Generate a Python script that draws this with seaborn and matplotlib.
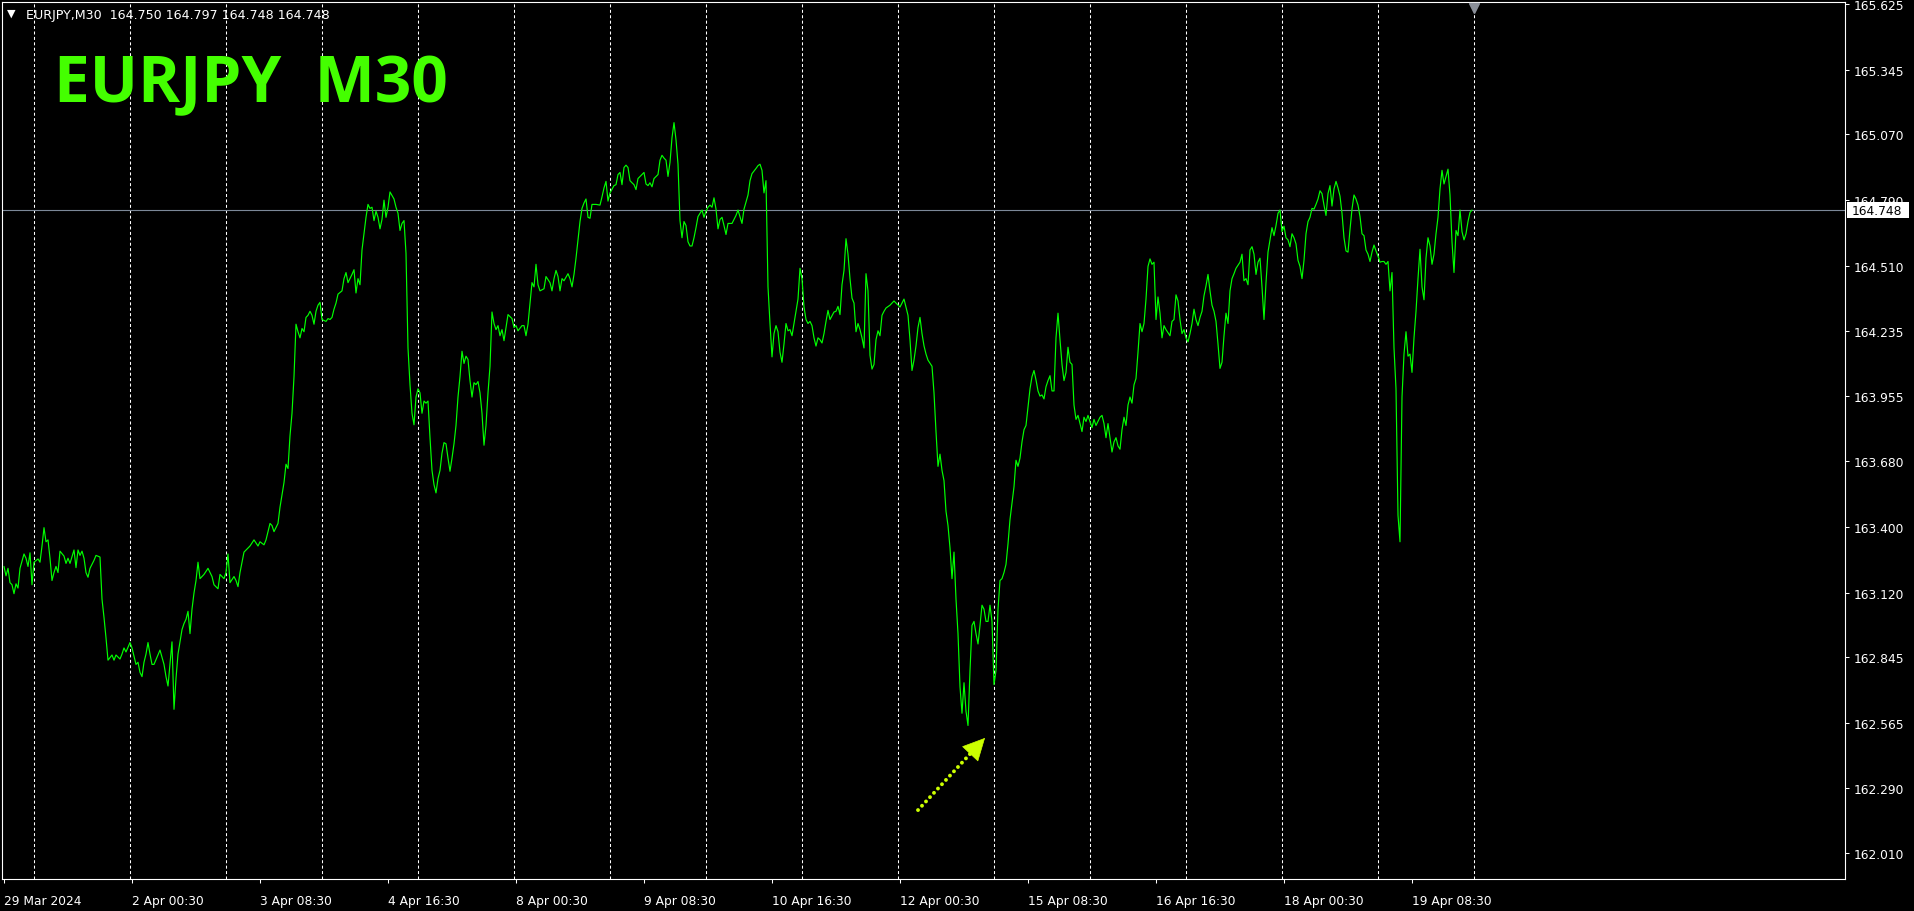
import matplotlib
matplotlib.use('Agg')
import matplotlib.pyplot as plt
import matplotlib.transforms as mtransforms
from matplotlib.patches import Rectangle
import pandas as pd
import seaborn as sns

# M30 bar number (0 = 29 Mar 16:30) and close price
wk1_bar = [0, 1, 2, 3, 4, 5, 6, 7, 8, 10, 11, 12, 13, 14, 15, 17, 18, 19, 20, 21,
           22, 23, 24, 25, 26, 27, 28, 30, 31, 32, 33, 35, 36, 37, 38, 39, 40, 41, 42, 43,
           45, 46, 48, 49, 50, 51, 52, 54, 55, 56, 58, 59, 60, 61, 63, 64, 65, 66, 67, 68,
           69, 70, 71, 72, 73, 74, 75, 77, 78, 80, 81, 82, 83, 84, 85, 86, 87, 88, 89, 90,
           91, 92, 93, 94, 95, 96, 97, 98, 100, 102, 104, 105, 107, 108, 110, 111, 112, 113, 115, 116,
           117, 118, 120, 123, 125, 127, 128, 130, 131, 133, 134, 135, 137, 138, 140, 141, 142, 143, 144, 145,
           146, 147, 148, 149, 150, 151, 152, 153, 154, 155, 156, 157, 158, 159, 161, 162, 163, 164, 165, 166,
           167, 169, 170, 171, 172, 173, 174, 175, 176, 177, 178, 179, 180, 181, 182, 183, 184, 185, 186, 187,
           188, 189, 190, 191, 192, 193, 195, 196, 197, 198, 199, 200, 201, 202, 203, 204, 205, 206, 207, 208,
           209, 210, 211, 212, 213, 214, 215, 216, 217, 218, 219, 220, 221, 222, 223, 224, 225, 226, 227, 228,
           229, 230, 231, 232, 233, 234, 235, 236, 237, 238, 239, 240, 241, 242, 243, 244, 245, 246, 247, 248,
           249, 250, 251, 252, 254]
wk1_close = [163.231, 163.191, 163.223, 163.162, 163.153, 163.115, 163.157, 163.139, 163.223, 163.284,
             163.266, 163.231, 163.289, 163.153, 163.249, 163.263, 163.249, 163.318, 163.396, 163.336,
             163.344, 163.266, 163.171, 163.205, 163.231, 163.205, 163.296, 163.275, 163.244, 163.266,
             163.244, 163.301, 163.226, 163.301, 163.278, 163.296, 163.266, 163.205, 163.185, 163.223,
             163.257, 163.278, 163.271, 163.092, 163.014, 162.927, 162.832, 162.854, 162.832, 162.854,
             162.837, 162.858, 162.884, 162.867, 162.907, 162.884, 162.849, 162.814, 162.823, 162.780,
             162.762, 162.823, 162.858, 162.907, 162.858, 162.814, 162.814, 162.854, 162.875, 162.814,
             162.762, 162.722, 162.814, 162.910, 162.623, 162.754, 162.858, 162.910, 162.962, 162.988,
             163.006, 163.040, 162.945, 163.049, 163.118, 163.171, 163.249, 163.179, 163.197, 163.223,
             163.188, 163.153, 163.136, 163.197, 163.179, 163.205, 163.284, 163.162, 163.188, 163.171,
             163.145, 163.205, 163.292, 163.318, 163.344, 163.318, 163.336, 163.323, 163.344, 163.414,
             163.405, 163.379, 163.414, 163.483, 163.588, 163.666, 163.648, 163.787, 163.883, 164.039,
             164.262, 164.230, 164.204, 164.244, 164.230, 164.291, 164.300, 164.317, 164.300, 164.262,
             164.317, 164.343, 164.355, 164.282, 164.274, 164.286, 164.282, 164.291, 164.326, 164.352,
             164.390, 164.404, 164.456, 164.482, 164.439, 164.456, 164.474, 164.494, 164.395, 164.456,
             164.430, 164.578, 164.647, 164.717, 164.772, 164.755, 164.760, 164.703, 164.743, 164.717,
             164.668, 164.708, 164.790, 164.717, 164.760, 164.825, 164.795, 164.760, 164.734, 164.661,
             164.691, 164.703, 164.564, 164.161, 164.005, 163.883, 163.834, 163.952, 163.987, 163.970,
             163.883, 163.935, 163.926, 163.935, 163.779, 163.640, 163.579, 163.544, 163.605, 163.640,
             163.713, 163.758, 163.753, 163.692, 163.636, 163.692, 163.753, 163.831, 163.952, 164.039,
             164.147, 164.095, 164.126, 164.112, 164.022, 163.952, 164.013, 164.005, 164.018, 163.970,
             163.883, 163.747, 163.831, 163.970, 164.083, 164.314, 164.265, 164.239, 164.256, 164.213,
             164.239, 164.192, 164.248, 164.303, 164.286]

wk2_bar = [255, 256, 257, 259, 260, 261, 262, 263, 264, 265, 266, 267, 268, 270, 271, 273, 274, 275, 276, 277,
           278, 279, 280, 282, 283, 284, 285, 286, 287, 288, 289, 290, 291, 292, 293, 294, 296, 298, 299, 300,
           301, 302, 303, 305, 306, 307, 308, 309, 310, 311, 312, 313, 314, 315, 316, 317, 319, 320, 321, 322,
           323, 324, 325, 327, 328, 329, 330, 331, 332, 333, 334, 335, 336, 337, 338, 339, 340, 341, 342, 343,
           344, 345, 346, 347, 349, 350, 351, 352, 353, 354, 355, 356, 357, 358, 359, 360, 361, 362, 364, 365,
           366, 367, 368, 369, 370, 372, 373, 374, 376, 377, 378, 379, 380, 381, 382, 383, 384, 385, 386, 387,
           388, 389, 390, 391, 392, 393, 394, 395, 396, 397, 398, 399, 400, 401, 402, 403, 404, 405, 406, 407,
           408, 409, 410, 411, 412, 413, 415, 416, 417, 418, 419, 420, 421, 422, 423, 424, 425, 426, 427, 428,
           429, 430, 431, 432, 433, 434, 435, 436, 437, 438, 439, 440, 441, 443, 444, 445, 446, 448, 449, 450,
           451, 452, 453, 454, 455, 456, 457, 458, 459, 460, 461, 462, 464, 465, 466, 467, 468, 469, 470, 471,
           472, 473, 474, 475, 476, 477, 478, 479, 480, 481, 482, 483, 484, 485, 486, 487, 488, 489, 490, 491,
           492, 493, 494]
wk2_close = [164.248, 164.256, 164.234, 164.256, 164.256, 164.213, 164.262, 164.352, 164.439, 164.421,
             164.517, 164.430, 164.404, 164.413, 164.465, 164.439, 164.404, 164.456, 164.491, 164.465,
             164.404, 164.456, 164.447, 164.477, 164.456, 164.421, 164.474, 164.543, 164.621, 164.699,
             164.755, 164.778, 164.795, 164.717, 164.713, 164.772, 164.772, 164.769, 164.804, 164.842,
             164.870, 164.786, 164.821, 164.852, 164.856, 164.899, 164.908, 164.856, 164.929, 164.939,
             164.929, 164.873, 164.864, 164.856, 164.835, 164.882, 164.899, 164.908, 164.859, 164.852,
             164.864, 164.847, 164.882, 164.899, 164.960, 164.981, 164.969, 164.960, 164.891, 164.951,
             165.056, 165.120, 165.047, 164.943, 164.703, 164.630, 164.699, 164.682, 164.613, 164.595,
             164.595, 164.630, 164.673, 164.720, 164.748, 164.717, 164.743, 164.760, 164.769, 164.760,
             164.800, 164.752, 164.668, 164.708, 164.717, 164.682, 164.644, 164.691, 164.691, 164.708,
             164.725, 164.748, 164.720, 164.691, 164.752, 164.812, 164.873, 164.903, 164.925, 164.937,
             164.943, 164.917, 164.821, 164.873, 164.421, 164.265, 164.123, 164.222, 164.256, 164.230,
             164.143, 164.100, 164.178, 164.265, 164.234, 164.239, 164.213, 164.265, 164.317, 164.369,
             164.500, 164.456, 164.335, 164.282, 164.265, 164.274, 164.256, 164.204, 164.169, 164.204,
             164.196, 164.182, 164.222, 164.274, 164.321, 164.282, 164.314, 164.317, 164.338, 164.303,
             164.430, 164.491, 164.626, 164.560, 164.456, 164.373, 164.352, 164.230, 164.265, 164.239,
             164.204, 164.161, 164.477, 164.404, 164.130, 164.071, 164.091, 164.196, 164.234, 164.213,
             164.300, 164.317, 164.331, 164.343, 164.352, 164.361, 164.352, 164.335, 164.352, 164.369,
             164.335, 164.300, 164.196, 164.065, 164.109, 164.170, 164.248, 164.291, 164.222, 164.170,
             164.135, 164.109, 164.083, 163.970, 163.805, 163.657, 163.709, 163.640, 163.596, 163.466,
             163.405, 163.310, 163.179, 163.292, 163.092, 162.945, 162.719, 162.606, 162.736, 162.615,
             162.554, 162.788, 162.980, 162.997, 162.945, 162.901, 162.980, 163.066, 163.049, 162.997,
             162.997, 163.066, 162.997]

wk3_bar = [495, 496, 497, 498, 499, 500, 501, 502, 503, 504, 505, 506, 507, 508, 509, 510, 511, 512, 513, 514,
           515, 516, 517, 518, 519, 520, 521, 522, 523, 524, 525, 526, 527, 528, 529, 530, 531, 532, 533, 534,
           535, 536, 537, 538, 539, 540, 541, 542, 544, 545, 546, 548, 549, 550, 551, 552, 553, 554, 555, 556,
           557, 558, 559, 560, 561, 562, 563, 564, 565, 566, 567, 568, 569, 570, 571, 572, 573, 574, 575, 576,
           577, 578, 579, 580, 581, 583, 584, 585, 586, 587, 588, 589, 590, 591, 592, 593, 594, 595, 596, 597,
           598, 599, 600, 601, 602, 603, 604, 605, 606, 607, 608, 609, 610, 611, 612, 613, 614, 615, 616, 618,
           619, 620, 621, 622, 623, 624, 625, 626, 627, 628, 629, 630, 631, 632, 633, 634, 635, 636, 637, 638,
           639, 640, 641, 642, 643, 644, 645, 646, 647, 648, 649, 650, 651, 652, 653, 654, 655, 656, 657, 658,
           659, 660, 661, 662, 663, 664, 665, 666, 667, 668, 669, 670, 671, 672, 673, 674, 675, 676, 677, 678,
           679, 680, 681, 682, 683, 684, 685, 686, 687, 688, 689, 690, 691, 692, 693, 694, 695, 696, 697, 698,
           699, 700, 701, 702, 703, 704, 705, 706, 707, 708, 709, 710, 711, 712, 713, 714, 715, 716, 717, 718,
           719, 720, 721, 722, 723, 724, 725, 726, 727, 728, 729, 730, 731, 732, 733, 734]
wk3_close = [162.728, 162.788, 163.049, 163.171, 163.179, 163.205, 163.240, 163.327, 163.431, 163.501,
             163.570, 163.683, 163.657, 163.692, 163.761, 163.813, 163.831, 163.909, 163.987, 164.039,
             164.065, 164.025, 163.978, 163.956, 163.961, 163.944, 163.996, 164.022, 164.043, 163.978,
             163.978, 164.204, 164.309, 164.196, 164.091, 164.022, 164.057, 164.164, 164.100, 164.091,
             163.918, 163.857, 163.874, 163.839, 163.805, 163.866, 163.848, 163.874, 163.822, 163.857,
             163.831, 163.866, 163.874, 163.839, 163.779, 163.839, 163.779, 163.718, 163.761, 163.779,
             163.744, 163.730, 163.813, 163.866, 163.831, 163.918, 163.952, 163.926, 164.004, 164.031,
             164.143, 164.265, 164.230, 164.265, 164.369, 164.508, 164.540, 164.517, 164.526, 164.282,
             164.378, 164.309, 164.204, 164.256, 164.239, 164.213, 164.274, 164.282, 164.387, 164.361,
             164.282, 164.222, 164.239, 164.204, 164.187, 164.222, 164.265, 164.326, 164.282, 164.256,
             164.291, 164.317, 164.383, 164.425, 164.474, 164.404, 164.343, 164.317, 164.274, 164.178,
             164.074, 164.100, 164.213, 164.309, 164.265, 164.404, 164.456, 164.477, 164.500, 164.526,
             164.560, 164.447, 164.456, 164.430, 164.578, 164.592, 164.560, 164.474, 164.526, 164.543,
             164.421, 164.282, 164.439, 164.569, 164.621, 164.673, 164.639, 164.682, 164.734, 164.748,
             164.656, 164.679, 164.630, 164.621, 164.592, 164.647, 164.630, 164.604, 164.534, 164.508,
             164.456, 164.534, 164.647, 164.699, 164.717, 164.755, 164.752, 164.772, 164.795, 164.830,
             164.818, 164.769, 164.725, 164.818, 164.852, 164.765, 164.838, 164.870, 164.842, 164.807,
             164.734, 164.630, 164.574, 164.569, 164.665, 164.752, 164.812, 164.795, 164.769, 164.720,
             164.647, 164.639, 164.578, 164.560, 164.529, 164.569, 164.599, 164.574, 164.552, 164.526,
             164.529, 164.529, 164.517, 164.529, 164.404, 164.482, 164.161, 163.987, 163.449, 163.336,
             163.952, 164.135, 164.230, 164.126, 164.135, 164.057, 164.204, 164.317, 164.456, 164.581,
             164.421, 164.366, 164.543, 164.630, 164.595, 164.517, 164.560, 164.647, 164.717, 164.838,
             164.917, 164.859, 164.891, 164.922, 164.812, 164.613, 164.482, 164.661, 164.639, 164.748,
             164.656, 164.621, 164.647, 164.699, 164.738, 164.748]

last_price = 164.748
header_text = "EURJPY,M30  164.750 164.797 164.748 164.748"
title_text = "EURJPY  M30"

price_ticks = [165.625, 165.345, 165.070, 164.790, 164.510, 164.235, 163.955,
               163.680, 163.400, 163.120, 162.845, 162.565, 162.290, 162.010]
time_tick_bars = [0, 64, 128, 192, 256, 320, 384, 448, 512, 576, 640, 704]
time_tick_labels = ["29 Mar 2024", "2 Apr 00:30", "3 Apr 08:30", "4 Apr 16:30",
                    "8 Apr 00:30", "9 Apr 08:30", "10 Apr 16:30", "12 Apr 00:30",
                    "15 Apr 08:30", "16 Apr 16:30", "18 Apr 00:30", "19 Apr 08:30"]
day_start_bars = [15 + 48 * k for k in range(16)]

df = pd.DataFrame({
    "bar": wk1_bar + wk2_bar + wk3_bar,
    "close": wk1_close + wk2_close + wk3_close,
})

sns.set_theme(style="dark", rc={
    "figure.facecolor": "black",
    "axes.facecolor": "black",
    "axes.edgecolor": "white",
    "text.color": "white",
    "xtick.color": "white",
    "ytick.color": "white",
})
plt.rcParams["font.family"] = ["DejaVu Sans"]

W, H = 1915, 912
fig = plt.figure(figsize=(W / 100, H / 100), dpi=100)
ax = fig.add_axes([2 / W, 32 / H, 1843 / W, 877 / H])

# day separators (dashed)
for b in day_start_bars:
    ax.axvline(b, color="white", lw=0.75, ls=(0, (2.9, 2.3)), zorder=1)

# bid line
ax.axhline(last_price, color="#7c8898", lw=0.8, zorder=2)

sns.lineplot(data=df, x="bar", y="close", color="#00ff00", lw=0.85,
             estimator=None, sort=False, ax=ax, zorder=3)

ax.set_xlim(-1, 920.5)
ax.set_ylim(161.9006, 165.6335)
ax.set_xlabel("")
ax.set_ylabel("")

for s in ax.spines.values():
    s.set_color("white")
    s.set_linewidth(0.8)

ax.yaxis.tick_right()
ax.set_yticks(price_ticks)
ax.set_yticklabels([f"{v:.3f}" for v in price_ticks])
ax.tick_params(axis="y", colors="white", length=3, width=0.75, pad=3.5,
               labelsize=8.8, right=True, left=False)

ax.set_xticks(time_tick_bars)
ax.set_xticklabels(time_tick_labels, ha="left")
ax.tick_params(axis="x", colors="white", length=3, width=0.75, pad=8,
               labelsize=8.8, bottom=True)

# current price box on the price scale
trans = mtransforms.blended_transform_factory(fig.transFigure, ax.transData)
box_h = 16 * (165.6335 - 161.9006) / 877
fig.patches.append(Rectangle((1847 / W, last_price - box_h / 2), 62 / W, box_h,
                             transform=trans, facecolor="white", edgecolor="none",
                             zorder=5))
fig.text(1852 / W, last_price, f"{last_price:.3f}", transform=trans, color="black",
         fontsize=8.8, va="center", ha="left", zorder=6)

# chart shift marker
ax.plot([735], [0.993], marker="v", markersize=7, color="#8a8f99",
        transform=ax.get_xaxis_transform(), clip_on=False, zorder=4)

# header and big symbol label
fig.text(7 / W, 1 - 14 / H, "\u25bc", fontsize=8, color="white", va="center")
fig.text(26 / W, 1 - 15 / H, header_text, fontsize=9.1, color="white", va="center")
fig.text(54 / W, 1 - 102 / H, title_text, fontsize=46, fontweight="bold",
         family="Open Sans", color="#44ff00", va="baseline")

# dotted arrow pointing at the low
arrow_col = "#ccff00"
ax.plot([457, 483.7], [162.194, 162.439], color=arrow_col, lw=2.8,
        ls=(0, (0.01, 1.5)), dash_capstyle="round", zorder=4)
ax.annotate("", xy=(490.5, 162.501), xytext=(483.7, 162.439),
            arrowprops=dict(arrowstyle="-|>,head_length=1.5,head_width=0.75",
                            mutation_scale=10, color=arrow_col, lw=0.5,
                            shrinkA=0, shrinkB=0), zorder=4)

fig.savefig("out.png", dpi=100, facecolor="black")
